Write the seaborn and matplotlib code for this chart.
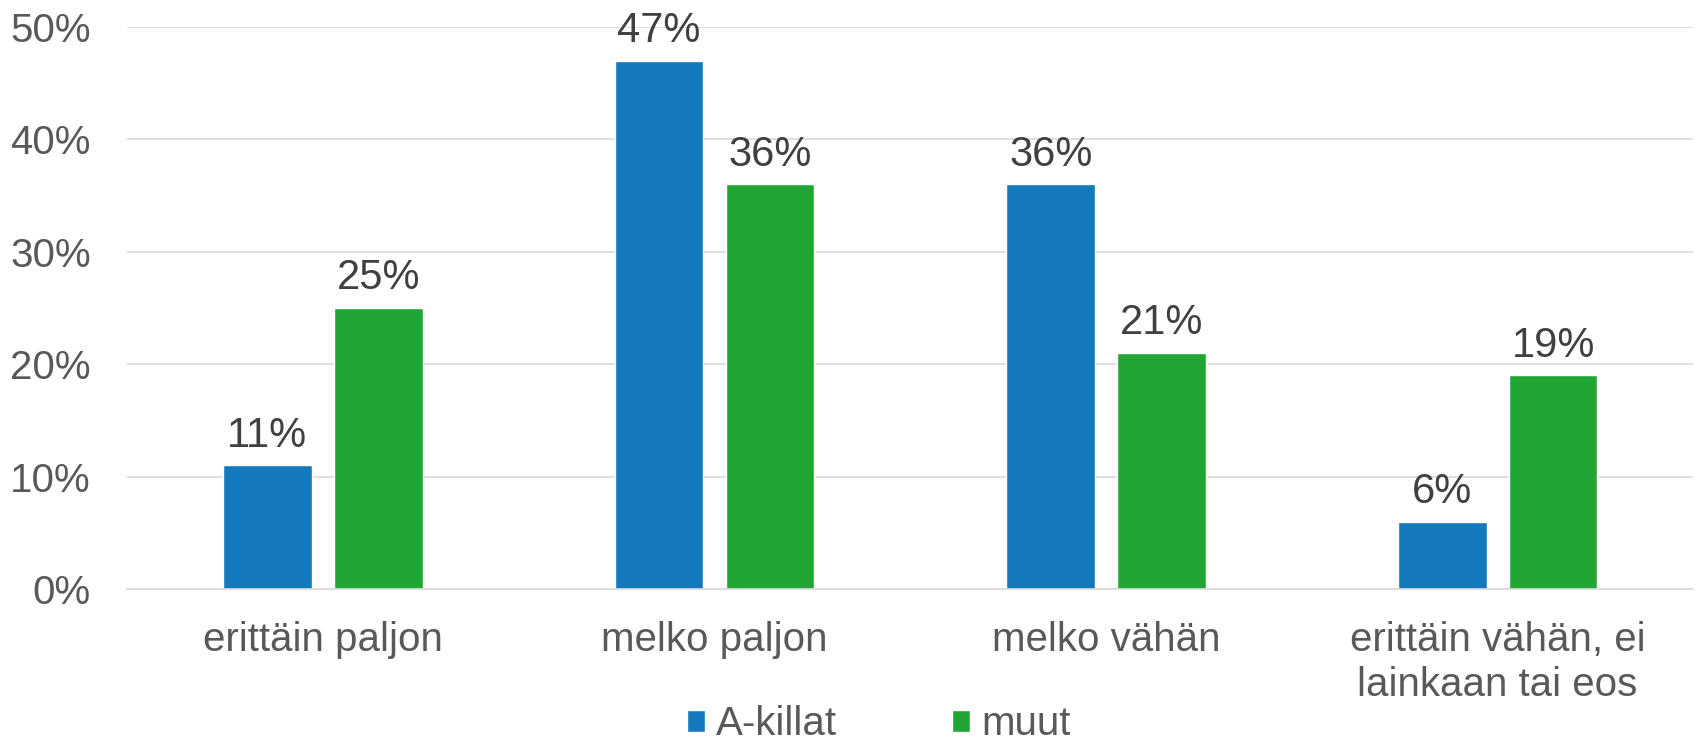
import pandas as pd
import seaborn as sns
import matplotlib.pyplot as plt
from matplotlib.ticker import PercentFormatter

categories = ["erittäin paljon", "melko paljon", "melko vähän", "erittäin vähän, ei\nlainkaan tai eos"]
a_killat = [11, 47, 36, 6]
muut = [25, 36, 21, 19]
series = ["A-killat", "muut"]
yticks = [0, 10, 20, 30, 40, 50]

df = pd.DataFrame({
    "kategoria": categories * 2,
    "arvo": a_killat + muut,
    "ryhma": [series[0]] * len(categories) + [series[1]] * len(categories),
})

sns.set_style("white")
plt.rcParams['font.family'] = ['Liberation Sans', 'DejaVu Sans']

fig = plt.figure(figsize=(16.96, 7.42), dpi=100)
ax = fig.add_axes([0.0749, 0.2062, 0.9236, 0.7574])

sns.barplot(data=df, x="kategoria", y="arvo", hue="ryhma", order=categories,
            hue_order=series, palette=["#1579BE", "#21A636"],
            width=0.566, gap=0.2, saturation=1, ax=ax, legend=True)

for c in ax.containers:
    ax.bar_label(c, labels=[f"{v:.0f}%" for v in c.datavalues],
                 padding=7, fontsize=30, color="#404040")

ax.set_ylim(0, 50)
ax.set_yticks(yticks)
ax.yaxis.set_major_formatter(PercentFormatter(decimals=0))
ax.set_xlim(-0.5, 3.5)
ax.grid(axis="y", color="#D9D9D9", linewidth=1.2)
ax.set_axisbelow(True)
for s in ["left", "right", "top"]:
    ax.spines[s].set_visible(False)
ax.spines["bottom"].set_color("#D9D9D9")
ax.spines["bottom"].set_linewidth(1.2)
ax.tick_params(axis="y", length=0, pad=26, labelsize=29, labelcolor="#595959")
ax.tick_params(axis="x", length=0, pad=23, labelsize=29, labelcolor="#595959")
for t in ax.get_xticklabels():
    t.set_linespacing(1.25)
ax.set_xlabel("")
ax.set_ylabel("")

ax.get_legend().remove()
handles, labels = ax.get_legend_handles_labels()
fig.legend(handles, labels, loc="center", bbox_to_anchor=(0.518, 0.024), ncol=2,
           frameon=False, fontsize=29, labelcolor="#595959",
           handlelength=0.46, handleheight=0.46, handletextpad=0.27,
           columnspacing=2.85, borderaxespad=0)

fig.savefig("out.png", dpi=100)
